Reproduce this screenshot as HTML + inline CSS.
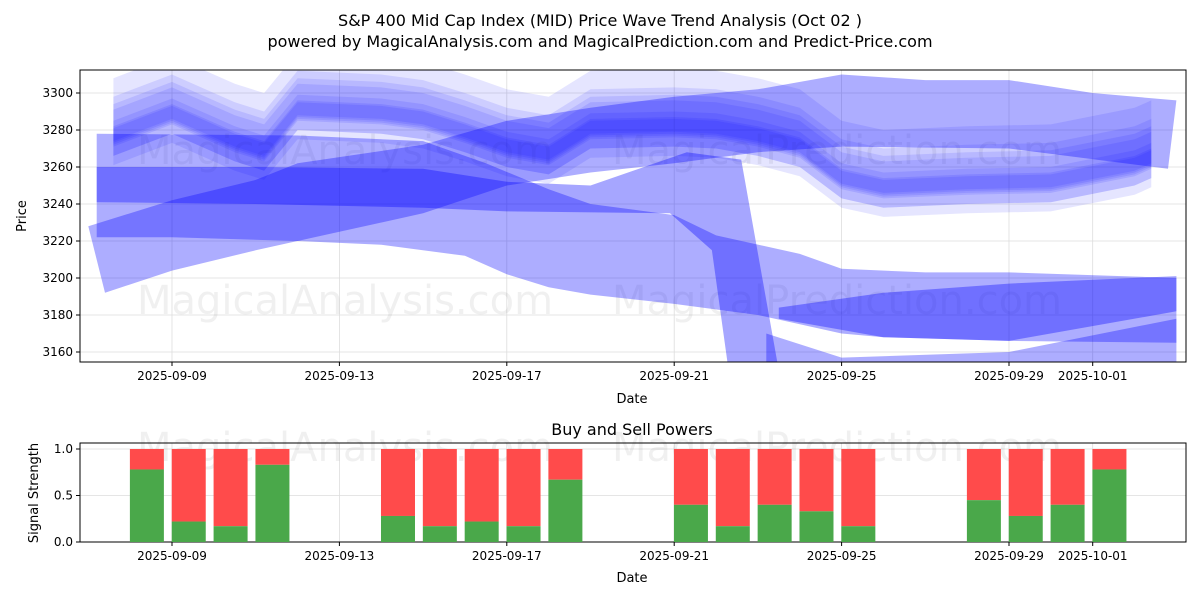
<!DOCTYPE html>
<html><head><meta charset="utf-8">
<style>
body{margin:0;background:#fff;font-family:"Liberation Sans","DejaVu Sans",sans-serif;}
svg text{font-family:"DejaVu Sans","Liberation Sans",sans-serif;}
</style></head>
<body>
<svg id="chart" width="1200" height="600" xmlns="http://www.w3.org/2000/svg">
<rect width="1200" height="600" fill="#fff"/>
<text x="600" y="26" font-size="16" text-anchor="middle">S&amp;P 400 Mid Cap Index (MID) Price Wave Trend Analysis (Oct 02 )</text>
<text x="600" y="47" font-size="16" text-anchor="middle">powered by MagicalAnalysis.com and MagicalPrediction.com and Predict-Price.com</text>
<g id="gtop"></g>
<g id="gbot"></g>
</svg>
<script>
// ---- data ----
const xTickLabels = ["2025-09-09","2025-09-13","2025-09-17","2025-09-21","2025-09-25","2025-09-29","2025-10-01"];
const xTickDays = [0,4,8,12,16,20,22];
const priceTicks = [3160,3180,3200,3220,3240,3260,3280,3300];
const strengthTicks = [0,0.5,1.0];
const bandA_upper = [[-1.8,3260],[2,3260],[6,3259],[8,3252],[10,3250],[12.3,3268],[13.6,3264],[14.5,3150]];
const bandA_lower = [[13.3,3150],[12.9,3215],[11.9,3235],[8,3236],[6,3238],[2,3240],[-1.8,3241]];
const bandB_upper = [[-2.0,3228],[0,3242],[2,3253],[3,3262],[6,3272],[8,3285],[10,3292],[12,3298],[14,3302],[16,3310],[18,3307],[20,3307],[22,3300],[24,3296]];
const bandB_lower = [[23.8,3259],[20,3270],[16,3271],[14,3268],[12,3262],[10,3257],[8,3250],[6,3235],[4,3225],[2,3215],[0,3204],[-1.6,3192]];
const bandC_upper = [[-1.8,3278],[3,3277],[6,3274],[7.5,3262],[9,3248],[10,3240],[12,3234],[13,3223],[15,3213],[16,3205],[18,3203],[20,3203],[24,3200]];
const bandC_lower = [[24,3165],[20,3166],[17,3168],[16,3170],[14,3180],[12,3186],[10,3191],[9,3195],[8,3202],[7,3212],[5,3218],[3,3220],[0,3222],[-1.8,3222]];
const bandD_upper = [[14.5,3184],[17,3192],[20,3197],[24,3201]];
const bandD_lower = [[24,3182],[20,3166],[17,3168],[14.5,3178]];
const bandE_upper = [[14.2,3170],[16,3157],[20,3160],[24,3178]];
const bandE_lower = [[24,3150],[14.2,3150]];
const waveDays = [-1.4,0,1.5,2.2,3,5,6,7,8,9,10,12,13,14,15,16,17,19,21,23,23.4];
const wavePrices = [3278,3290,3275,3270,3292,3290,3287,3280,3272,3268,3282,3283,3282,3278,3272,3255,3250,3252,3253,3262,3266];
const waveOffsets = [0,4,-4,8,-7,2,12];
const waveHalfWidths = [7,9,8,12,10,14,18];
const barDays = [-0.6,0.4,1.4,2.4,5.4,6.4,7.4,8.4,9.4,12.4,13.4,14.4,15.4,16.4,19.4,20.4,21.4,22.4];
const buyValues = [0.78,0.22,0.17,0.83,0.28,0.17,0.22,0.17,0.67,0.4,0.17,0.4,0.33,0.17,0.45,0.28,0.4,0.78];

const NS="http://www.w3.org/2000/svg";
function mk(tag,attrs,parent){const e=document.createElementNS(NS,tag);for(const k in attrs)e.setAttribute(k,attrs[k]);parent.appendChild(e);return e;}
const L=80,R=1186;
const x=d=>172+41.85*d;
const yP=p=>352-(p-3160)*(259/140);
const T1=70,B1=362,T2=443,B2=542;
const yS=v=>542-v*93;
const gTop=document.getElementById('gtop'), gBot=document.getElementById('gbot');

const defs=mk('defs',{},gTop);
const cp=mk('clipPath',{id:'c1'},defs);mk('rect',{x:L,y:T1,width:R-L,height:B1-T1},cp);

xTickDays.forEach(d=>{
 let g=mk('line',{x1:x(d),x2:x(d),y1:T1,y2:B1,stroke:'#ddd','stroke-width':0.8},gTop);
 
 
 let g2=mk('line',{x1:x(d),x2:x(d),y1:T2,y2:B2,stroke:'#ddd','stroke-width':0.8},gBot);
 
 
});
priceTicks.forEach(p=>{
 let g=mk('line',{x1:L,x2:R,y1:yP(p),y2:yP(p),stroke:'#ddd','stroke-width':0.8},gTop);
 
 
});
strengthTicks.forEach(v=>{
 let g=mk('line',{x1:L,x2:R,y1:yS(v),y2:yS(v),stroke:'#ddd','stroke-width':0.8},gBot);
 
 
});

[[345,150,'MagicalAnalysis.com'],[837,150,'MagicalPrediction.com'],[345,300,'MagicalAnalysis.com'],[837,300,'MagicalPrediction.com'],[345,447,'MagicalAnalysis.com'],[837,447,'MagicalPrediction.com']].forEach(w=>{
 let t=mk('text',{x:w[0],y:w[1]+14,'font-size':40,'text-anchor':'middle',fill:'rgba(0,0,0,0.06)'},w[1]>400?gBot:gTop);
 t.textContent=w[2];
 
 
});

const plot=mk('g',{'clip-path':'url(#c1)'},gTop);
function band(up,lo,alpha,name){
 const pts=up.concat(lo).map(q=>x(q[0]).toFixed(1)+','+yP(q[1]).toFixed(1)).join(' ');
 const p=mk('polygon',{points:pts,fill:'rgb(0,0,255)','fill-opacity':alpha},plot);
 
 
}
band(bandC_upper,bandC_lower,0.32,'wave-band-descending');
band(bandE_upper,bandE_lower,0.32,'wave-band-bottom');
band(bandB_upper,bandB_lower,0.32,'wave-band-rising');
band(bandA_upper,bandA_lower,0.35,'wave-band-flat-drop');
band(bandD_upper,bandD_lower,0.35,'wave-band-low');
waveOffsets.forEach((o,i)=>{
 const hw=waveHalfWidths[i];
 const up=waveDays.map((d,j)=>[d,wavePrices[j]+o+hw]);
 const lo=waveDays.map((d,j)=>[d,wavePrices[j]+o-hw]).reverse();
 band(up,lo,0.10,'wave-band-upper');
});

[[T1,B1,gTop],[T2,B2,gBot]].forEach(a=>{
 let r=mk('rect',{x:L,y:a[0],width:R-L,height:a[1]-a[0],fill:'none',stroke:'#000','stroke-width':1},a[2]);
 
 
});
[[B1,gTop],[B2,gBot]].forEach(a=>{
 xTickDays.forEach((d,i)=>{
  mk('line',{x1:x(d),x2:x(d),y1:a[0],y2:a[0]+4,stroke:'#000'},a[1]);
  let t=mk('text',{x:x(d),y:a[0]+18,'font-size':12,'text-anchor':'middle'},a[1]);
  t.textContent=xTickLabels[i];
  
  
 });
});
priceTicks.forEach(p=>{
 mk('line',{x1:L-4,x2:L,y1:yP(p),y2:yP(p),stroke:'#000'},gTop);
 let t=mk('text',{x:L-7,y:yP(p)+4,'font-size':12,'text-anchor':'end'},gTop);
 t.textContent=p;
 
 
});
strengthTicks.forEach(v=>{
 mk('line',{x1:L-4,x2:L,y1:yS(v),y2:yS(v),stroke:'#000'},gBot);
 let t=mk('text',{x:L-7,y:yS(v)+4,'font-size':12,'text-anchor':'end'},gBot);
 t.textContent=v.toFixed(1);
 
 
});
barDays.forEach((d,i)=>{
 const cx=x(d),w=34,b=buyValues[i];
 let s=mk('rect',{x:cx-w/2,y:yS(1),width:w,height:yS(b)-yS(1),fill:'#ff4b4b'},gBot);
 
 
 let g=mk('rect',{x:cx-w/2,y:yS(b),width:w,height:yS(0)-yS(b),fill:'#4aa84a'},gBot);
 
 
});
function lab(txt,xx,yy,rot,name,par,size){
 let t=mk('text',{x:xx,y:yy,'font-size':size||13,'text-anchor':'middle'},par);
 if(rot)t.setAttribute('transform','rotate(-90 '+xx+' '+yy+')');
 t.textContent=txt;
 
 
}
lab('Date',632,403,false,'x-axis-title',gTop);
lab('Price',26,216,true,'y-axis-title',gTop);
lab('Buy and Sell Powers',632,435,false,'subplot-title',gBot,16);
lab('Date',632,582,false,'x-axis-title',gBot);
lab('Signal Strength',38,493,true,'y-axis-title',gBot);
</script>
</body></html>
